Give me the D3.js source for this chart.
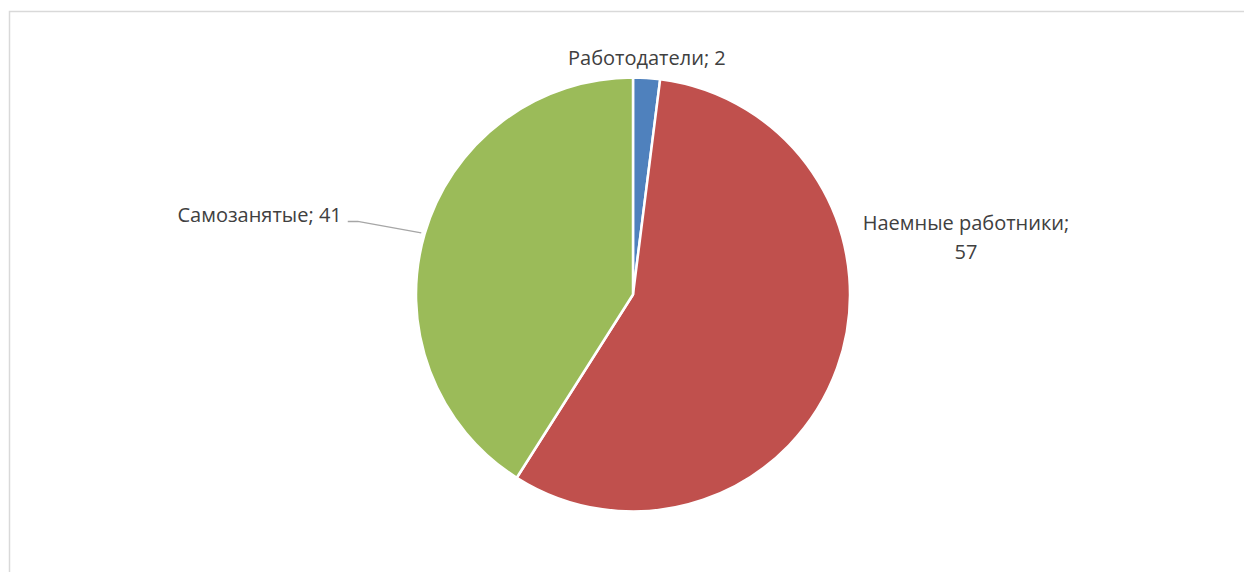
<!DOCTYPE html>
<html>
<head>
<meta charset="UTF-8">
<title>Pie</title>
<script src="https://d3js.org/d3.v7.min.js"></script>
<style>
  body { margin: 0; background: #fff; }
  .lbl { font-family: "Open Sans", sans-serif; font-size: 20px; fill: #404040; }
</style>
</head>
<body>
<script>
// data
var categories = ["Работодатели", "Наемные работники", "Самозанятые"];
var values = [2, 57, 41];
var colors = ["#4f81bd", "#c0504d", "#9bbb59"];

var width = 1244, height = 572;
var cx = 633, cy = 294.5, radius = 217;

var svg = d3.select("body").append("svg")
    .attr("width", width)
    .attr("height", height);

// chart frame
svg.append("rect")
    .attr("x", 9.5).attr("y", 11.5)
    .attr("width", width).attr("height", height)
    .attr("fill", "none")
    .attr("stroke", "#d9d9d9")
    .attr("stroke-width", 1.5);

var pie = d3.pie().sort(null).value(function (d) { return d; });
var arcs = pie(values);
var arc = d3.arc().innerRadius(0).outerRadius(radius);

var g = svg.append("g").attr("transform", "translate(" + cx + "," + cy + ")");

g.selectAll("path.slice")
    .data(arcs)
    .enter().append("path")
    .attr("class", "slice")
    .attr("d", arc)
    .attr("fill", function (d, i) { return colors[i]; })
    .attr("stroke", "#fff")
    .attr("stroke-width", 2.5)
    .attr("stroke-linejoin", "round");

function polar(a, r) { return [Math.sin(a) * r, -Math.cos(a) * r]; }
function mid(d) { return (d.startAngle + d.endAngle) / 2; }

// Работодатели - above the pie
var p0 = polar(mid(arcs[0]), radius + 20);
g.append("text").attr("class", "lbl")
    .attr("x", p0[0] - 1).attr("y", -radius - 13)
    .attr("text-anchor", "middle")
    .text(categories[0] + "; " + values[0]);

// Наемные работники - right, two lines
var x1 = radius + 116, y1 = -65;
var t1 = g.append("text").attr("class", "lbl")
    .attr("text-anchor", "middle")
    .attr("x", x1).attr("y", y1);
t1.append("tspan").attr("x", x1).attr("dy", 0).text(categories[1] + ";");
t1.append("tspan").attr("x", x1).attr("dy", 29).text(values[1]);

// Самозанятые - left with leader line
var edge = polar(mid(arcs[2]), radius + 3.5);
var lx = edge[0] - 73.5, ly = edge[1] - 11.5;
g.append("path")
    .attr("d", "M" + edge[0] + "," + edge[1] + "L" + (lx + 10) + "," + ly + "L" + lx + "," + ly)
    .attr("fill", "none")
    .attr("stroke", "#a6a6a6")
    .attr("stroke-width", 1.3);
g.append("text").attr("class", "lbl")
    .attr("x", lx - 6).attr("y", ly + 1)
    .attr("text-anchor", "end")
    .text(categories[2] + "; " + values[2]);
</script>
</body>
</html>
